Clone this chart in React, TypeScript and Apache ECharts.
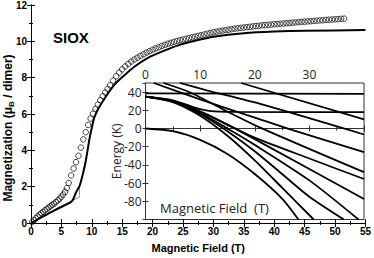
import React, { useEffect, useRef } from "react";
import * as echarts from "echarts";

// Measured magnetization (open circles)
const circleField = [
  0.2, 0.5, 0.8, 1.1, 1.4, 1.7, 2.0, 2.3, 2.6, 2.9, 3.2, 3.5, 3.8, 4.1, 4.4, 4.7, 5.0, 5.3, 5.6, 5.9,
  6.2, 6.6, 7.0, 7.4, 7.8, 8.2, 8.6, 9.0, 9.4, 9.8, 10.2, 10.6, 11.0, 11.4, 11.8, 12.2, 12.6, 13.0, 13.5, 14.0,
  14.5, 15.0, 15.5, 16.0, 16.5, 17.0, 17.5, 18.0, 18.5, 19.0, 19.5, 20.0, 20.5, 21.0, 21.5, 22.0, 22.5, 23.0, 23.5, 24.0,
  24.5, 25.0, 25.5, 26.0, 26.5, 27.0, 27.5, 28.0, 28.5, 29.0, 29.5, 30.0, 30.5, 31.0, 31.5, 32.0, 32.5, 33.0, 33.5, 34.0,
  34.5, 35.0, 35.5, 36.0, 36.5, 37.0, 37.5, 38.0, 38.5, 39.0, 39.5, 40.0, 40.5, 41.0, 41.5, 42.0, 42.5, 43.0, 43.5, 44.0,
  44.5, 45.0, 45.5, 46.0, 46.5, 47.0, 47.5, 48.0, 48.5, 49.0, 49.5, 50.0, 50.5, 51.0, 51.5,
];
const circleMag = [
  0.05, 0.15, 0.26, 0.36, 0.46, 0.54, 0.62, 0.7, 0.78, 0.85, 0.93, 1.0, 1.07, 1.15, 1.24, 1.34, 1.45, 1.57, 1.72, 1.92,
  2.2, 2.62, 3.0, 3.35, 3.7, 4.15, 4.6, 5.0, 5.4, 5.75, 6.02, 6.28, 6.52, 6.76, 6.98, 7.18, 7.38, 7.58, 7.84, 8.08,
  8.28, 8.46, 8.62, 8.76, 8.89, 9.0, 9.1, 9.2, 9.29, 9.38, 9.46, 9.54, 9.61, 9.68, 9.75, 9.81, 9.87, 9.92, 9.97, 10.02,
  10.06, 10.1, 10.14, 10.18, 10.22, 10.26, 10.3, 10.34, 10.38, 10.42, 10.46, 10.5, 10.53, 10.56, 10.59, 10.62, 10.64, 10.67, 10.7, 10.72,
  10.74, 10.76, 10.78, 10.8, 10.82, 10.84, 10.86, 10.88, 10.89, 10.91, 10.92, 10.94, 10.95, 10.97, 10.98, 11.0, 11.01, 11.03, 11.04, 11.06,
  11.07, 11.08, 11.1, 11.11, 11.12, 11.14, 11.15, 11.16, 11.18, 11.19, 11.2, 11.21, 11.22, 11.24, 11.25,
];

// Calculated curve (thick black)
const fitField = [0, 2, 4, 6, 6.6, 7.0, 7.4, 8.0, 8.5, 9.0, 9.6, 10.0, 10.4, 11, 12, 13, 14, 15.5, 17, 19.3, 22, 24.2, 27, 30, 35, 40, 45, 55];
const fitMag = [0, 0.36, 0.72, 1.05, 1.16, 1.35, 1.68, 2.05, 2.65, 3.4, 4.6, 5.25, 5.8, 6.25, 6.8, 7.3, 7.72, 8.18, 8.6, 9.1, 9.5, 9.78, 10.03, 10.25, 10.45, 10.54, 10.58, 10.62];

// T = 0 step curve (thin gray)
const stepField = [0, 2, 4, 6, 7.95, 8.0, 8.5, 9.0, 9.6, 10.4];
const stepMag = [0, 0.38, 0.75, 1.1, 1.42, 2.05, 2.65, 3.4, 4.6, 5.8];

// Inset: Zeeman energy levels (B in T, E in K)
const levelGround = [[0, 0], [5, -3], [10, -12.5], [15, -28], [20, -50], [25, -77], [28, -100]];
const levelFlatHigh = [[0, 38.5], [40, 38]];
const levelFlatLow = [[0, 35], [5, 31], [9, 23], [12, 19.2], [16, 18.3], [40, 18]];
const levelA = [[17.5, 50], [40, 10]];
const levelB = [[6.3, 50], [11.2, 42], [21, 27], [40, -6.6]];
const levelC = [[3.3, 50], [8.2, 39.6], [14.2, 21], [21, 1], [40, -48]];
const levelD = [[0, 35], [5, 30.4], [11.2, 15.7], [16.1, 1], [21, -15], [40, -77.5]];
const levelE = [[0, 35], [5, 29], [10, 14], [15, -8], [20, -35], [25, -65], [30.8, -100]];
const levelF = [[0, 35], [5, 29.5], [10, 16], [15, -3], [20, -25], [25, -50], [30, -75], [36.3, -100]];
const levelG = [[0, 35], [5, 30], [10, 17], [15, 0], [20, -18], [30, -57], [39, -100]];
const levelH = [[0, 35], [5, 30.2], [10, 18.5], [15, 4], [20, -10], [30, -33], [40, -55.5]];
const levelI = [[1.5, 50], [10, 32], [20, 12], [26.5, -1], [40, -26]];
const energyLevels = [levelGround, levelFlatHigh, levelFlatLow, levelA, levelB, levelC, levelD, levelE, levelF, levelG, levelH, levelI];

const BOLD = "Liberation Sans";
const INSET_FONT = "Open Sans";

export default function App() {
  const ref = useRef<HTMLDivElement>(null);
  useEffect(() => {
    const chart = echarts.init(ref.current!, null, { renderer: "svg" });
    const zip = (xs: number[], ys: number[]) => xs.map((x, i) => [x, ys[i]]);

    const mainTick = { show: true, inside: true, length: 4, lineStyle: { color: "#000", width: 1 } };
    const mainMinor = { show: true, splitNumber: 2, length: 2, lineStyle: { color: "#000", width: 1 } };
    const insetTick = { show: true, inside: true, length: 3, lineStyle: { color: "#333", width: 1 } };
    const insetMinor = { show: true, splitNumber: 2, length: 2, lineStyle: { color: "#333", width: 1 } };
    const boldLabel = { fontFamily: BOLD, fontWeight: "bold", fontSize: 10, color: "#000" };
    const insetLabel = { fontFamily: INSET_FONT, fontSize: 12, color: "#222" };

    chart.setOption({
      animation: false,
      backgroundColor: "#fff",
      grid: [
        { left: 31, top: 5, width: 338, height: 225, show: false },
        { left: 145.5, top: 83, width: 218.5, height: 136.5, show: true, backgroundColor: "#fff", borderColor: "#333", borderWidth: 1 },
      ],
      xAxis: [
        {
          gridIndex: 0, type: "value", min: 0, max: 55, interval: 5, position: "bottom",
          axisLine: { show: true, lineStyle: { color: "#000", width: 1 } },
          axisTick: mainTick, minorTick: mainMinor, splitLine: { show: false },
          axisLabel: { ...boldLabel, margin: 3 },
          name: "Magnetic Field (T)", nameLocation: "middle", nameGap: 19, nameMoveOverlap: false,
          nameTextStyle: { fontFamily: BOLD, fontWeight: "bold", fontSize: 11, color: "#000" },
        },
        {
          gridIndex: 0, type: "value", min: 0, max: 55, interval: 5, position: "top",
          axisLine: { show: true, lineStyle: { color: "#000", width: 1 } },
          axisTick: mainTick, minorTick: mainMinor, splitLine: { show: false }, axisLabel: { show: false },
        },
        {
          gridIndex: 1, type: "value", min: 0, max: 40, interval: 10, position: "top",
          axisLine: { show: true, lineStyle: { color: "#333", width: 1 } },
          axisTick: insetTick, minorTick: insetMinor, splitLine: { show: false },
          axisLabel: { ...insetLabel, margin: 3, showMaxLabel: false },
        },
        {
          gridIndex: 1, type: "value", min: 0, max: 40, interval: 10, position: "bottom",
          axisLine: { show: true, lineStyle: { color: "#333", width: 1 } },
          axisTick: insetTick, minorTick: insetMinor, splitLine: { show: false }, axisLabel: { show: false },
        },
      ],
      yAxis: [
        {
          gridIndex: 0, type: "value", min: 0, max: 12, interval: 2, position: "left",
          axisLine: { show: true, lineStyle: { color: "#000", width: 1 } },
          axisTick: mainTick, minorTick: mainMinor, splitLine: { show: false },
          axisLabel: { ...boldLabel, margin: 4 },
        },
        {
          gridIndex: 0, type: "value", min: 0, max: 12, interval: 2, position: "right",
          axisLine: { show: true, lineStyle: { color: "#000", width: 1 } },
          axisTick: mainTick, minorTick: mainMinor, splitLine: { show: false }, axisLabel: { show: false },
        },
        {
          gridIndex: 1, type: "value", min: -100, max: 50, interval: 20, position: "left",
          axisLine: { show: true, lineStyle: { color: "#333", width: 1 } },
          axisTick: insetTick, splitLine: { show: false },
          axisLabel: { ...insetLabel, margin: 4, showMinLabel: false, showMaxLabel: false },
          name: "Energy (K)", nameLocation: "middle", nameGap: 23, nameMoveOverlap: false,
          nameTextStyle: { fontFamily: INSET_FONT, fontSize: 12, color: "#222" },
        },
        {
          gridIndex: 1, type: "value", min: -100, max: 50, interval: 20, position: "right",
          axisLine: { show: true, lineStyle: { color: "#333", width: 1 } },
          axisTick: insetTick, splitLine: { show: false }, axisLabel: { show: false },
        },
      ],
      series: [
        {
          type: "line", xAxisIndex: 0, yAxisIndex: 0, data: zip(stepField, stepMag),
          showSymbol: false, silent: true, z: 2,
          lineStyle: { color: "#8c8c8c", width: 1 },
        },
        {
          type: "line", xAxisIndex: 0, yAxisIndex: 0, data: zip(fitField, fitMag),
          showSymbol: false, silent: true, smooth: 0.2, z: 3,
          lineStyle: { color: "#000", width: 2 },
        },
        {
          type: "scatter", xAxisIndex: 0, yAxisIndex: 0, data: zip(circleField, circleMag),
          symbol: "circle", symbolSize: 5.5, silent: true, z: 4,
          itemStyle: { color: "rgba(255,255,255,0)", borderColor: "#111", borderWidth: 1 },
        },
        ...energyLevels.map((lv) => ({
          type: "line", xAxisIndex: 2, yAxisIndex: 2, data: lv,
          showSymbol: false, silent: true, smooth: 0.25, clip: true, z: 5,
          lineStyle: { color: "#000", width: 1.8 },
        })),
      ],
      graphic: [
        {
          type: "text", left: 53, top: 30, z: 10,
          style: { text: "SIOX", fontFamily: BOLD, fontWeight: "bold", fontSize: 15, fill: "#000" },
        },
        {
          type: "text", x: 160, y: 208, z: 10,
          style: { text: "Magnetic Field  (T)", fontFamily: INSET_FONT, fontSize: 13, fill: "#222", verticalAlign: "middle", align: "left" },
        },
        {
          type: "text", x: 8, y: 128, rotation: Math.PI / 2, z: 10,
          style: {
            text: "{a|Magnetization (μ}{s|B}{a| / dimer)}",
            align: "center", verticalAlign: "middle",
            rich: {
              a: { fontFamily: BOLD, fontWeight: "bold", fontSize: 12, fill: "#000", lineHeight: 14 },
              s: { fontFamily: BOLD, fontWeight: "bold", fontSize: 8, fill: "#000", lineHeight: 14, verticalAlign: "bottom", padding: [4, 0, 0, 0] },
            },
          },
        },
      ],
    });
    return () => chart.dispose();
  }, []);
  return <div ref={ref} style={{ position: "fixed", left: 0, top: 0, width: 374, height: 258 }} />;
}
